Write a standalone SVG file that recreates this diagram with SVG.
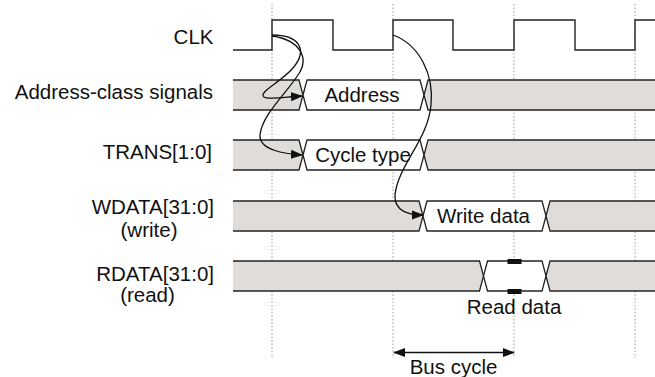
<svg xmlns="http://www.w3.org/2000/svg" width="655" height="377" viewBox="0 0 655 377">
<style>
text{font-family:"Liberation Sans",Arial,sans-serif;font-size:20.5px;fill:#111}
.lbl{text-anchor:end}
.mid{text-anchor:middle}
.grid{stroke:#9a9a9a;stroke-width:1;stroke-dasharray:1.5,2;fill:none}
.clk{stroke:#222;stroke-width:1.4;fill:none}
.bg{fill:#dfdcd9;stroke:#222;stroke-width:1.3}
.bw{fill:#fff;stroke:#222;stroke-width:1.3}
.conn{stroke:#111;stroke-width:1.3;fill:none}
</style>
<defs>
<marker id="ah" markerUnits="userSpaceOnUse" markerWidth="12" markerHeight="10" refX="11" refY="5" orient="auto-start-reverse">
<path d="M0,0.5 L12,5 L0,9.5 Z" fill="#111"/>
</marker>
</defs>
<rect width="655" height="377" fill="#fff"/>
<g id="grid">
<line class="grid" x1="272" y1="4" x2="272" y2="358"/>
<line class="grid" x1="393" y1="4" x2="393" y2="358"/>
<line class="grid" x1="514" y1="4" x2="514" y2="358"/>
<line class="grid" x1="635" y1="4" x2="635" y2="358"/>
</g>
<g id="clk">
<text class="lbl" x="213.5" y="43.5">CLK</text>
<path class="clk" d="M233,50 H272 V20 H333 V50 H393 V20 H453 V50 H514 V20 H575 V50 H635 V20 H660"/>
</g>
<g id="address">
<text class="lbl" x="213" y="98.5">Address-class signals</text>
<path class="bg" d="M233,80 L299,80 L303,95 L299,110 L233,110"/>
<path class="bw" d="M303,95 L307,80 L420,80 L424,95 L420,110 L307,110 Z"/>
<path class="bg" d="M660,110 L428,110 L424,95 L428,80 L660,80"/>
<text class="mid" x="362" y="101.5">Address</text>
</g>
<g id="trans">
<text class="lbl" x="212" y="158.5">TRANS[1:0]</text>
<path class="bg" d="M233,140 L299,140 L303,155 L299,170 L233,170"/>
<path class="bw" d="M303,155 L307,140 L420,140 L424,155 L420,170 L307,170 Z"/>
<path class="bg" d="M660,170 L428,170 L424,155 L428,140 L660,140"/>
<text class="mid" x="363" y="161.5">Cycle type</text>
</g>
<g id="wdata">
<text class="lbl" x="214" y="214">WDATA[31:0]</text>
<text class="mid" x="149" y="236.5">(write)</text>
<path class="bg" d="M233,201 L419,201 L423,216 L419,231 L233,231"/>
<path class="bw" d="M423,216 L427,201 L542,201 L546,216 L542,231 L427,231 Z"/>
<path class="bg" d="M660,231 L550,231 L546,216 L550,201 L660,201"/>
<text class="mid" x="483.5" y="222.7">Write data</text>
</g>
<g id="rdata">
<text class="lbl" x="214" y="280.5">RDATA[31:0]</text>
<text class="mid" x="147.5" y="301.5">(read)</text>
<path class="bg" d="M233,261 L479.5,261 L483.5,276 L479.5,291 L233,291"/>
<path class="bw" d="M483.5,276 L487.5,261 L542,261 L546,276 L542,291 L487.5,291 Z"/>
<path class="bg" d="M660,291 L550,291 L546,276 L550,261 L660,261"/>
<rect x="507.5" y="259" width="14" height="5" fill="#111"/>
<rect x="507.5" y="289" width="14" height="5" fill="#111"/>
<text class="mid" x="514" y="313.5">Read data</text>
</g>
<g id="connectors">
<path class="conn" marker-end="url(#ah)" d="M272,35 C300,35 308,50 293,68 C280,83 258,92 264,97 C268,100 285,97 302,96"/>
<path class="conn" marker-end="url(#ah)" d="M272,36 C300,40 310,58 298,75 C285,95 262,115 260,135 C259,150 285,154 302,155"/>
<path class="conn" marker-end="url(#ah)" d="M393,35 C420,45 434,75 431,105 C428,140 398,165 395,195 C394,212 410,215 423,215"/>
<line class="conn" x1="394" y1="352.5" x2="514" y2="352.5" marker-start="url(#ah)" marker-end="url(#ah)"/>
</g>
<g id="buscycle">
<text class="mid" x="453.5" y="374">Bus cycle</text>
</g>
</svg>
